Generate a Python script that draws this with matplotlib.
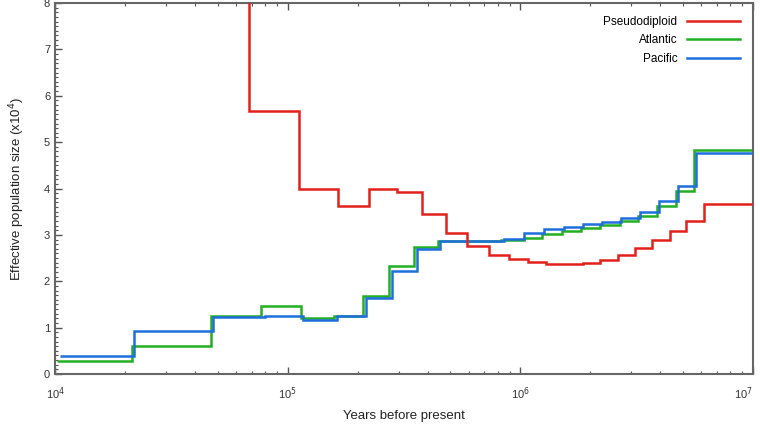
import matplotlib
matplotlib.use("Agg")
import matplotlib.pyplot as plt
from matplotlib.ticker import LogLocator, MultipleLocator, NullFormatter

plt.rcParams['font.family'] = ['Liberation Sans', 'DejaVu Sans']

# DATA (years before present = step edges, Ne x10^4 = step values)
pseudo_edges = [55000, 68500, 112400, 163800, 223500, 294900, 378900, 477100, 591600,
                730500, 890600, 1075000, 1293000, 1550000, 1861000, 2209000, 2620000,
                3123000, 3696000, 4387000, 5176000, 6143000, 10000000]
pseudo_ne = [12.0, 5.67, 3.98, 3.62, 3.98, 3.92, 3.45, 3.05, 2.76, 2.57, 2.48, 2.42,
             2.38, 2.37, 2.40, 2.46, 2.56, 2.71, 2.89, 3.09, 3.30, 3.66]

atlantic_edges = [10170, 21370, 46880, 77150, 114000, 157400, 209800, 272500, 347600,
                  441000, 828500, 1033000, 1243000, 1511000, 1824000, 2202000, 2673000,
                  3208000, 3873000, 4656000, 5565000, 10000000]
atlantic_ne = [0.28, 0.60, 1.26, 1.47, 1.21, 1.26, 1.68, 2.33, 2.74, 2.86, 2.89, 2.94,
               3.01, 3.09, 3.14, 3.22, 3.30, 3.41, 3.62, 3.95, 4.83]

pacific_edges = [10500, 21900, 47960, 80270, 116900, 162800, 216100, 279600, 359500,
                 452900, 847600, 1033000, 1260000, 1535000, 1861000, 2246000, 2711000,
                 3282000, 3934000, 4749000, 5715000, 10000000]
pacific_ne = [0.39, 0.93, 1.22, 1.25, 1.16, 1.25, 1.64, 2.23, 2.70, 2.87, 2.91, 3.03,
              3.12, 3.17, 3.23, 3.28, 3.37, 3.50, 3.73, 4.06, 4.77]

x_ticks = [1e4, 1e5, 1e6, 1e7]
x_ticklabels = ['10$^4$', '10$^5$', '10$^6$', '10$^7$']

fig = plt.figure(figsize=(7.6, 4.3), dpi=100)
ax = fig.add_axes([0.0724, 0.1302, 0.9184, 0.8628])

ax.stairs(atlantic_ne, atlantic_edges, baseline=None, color='#22b022', lw=1.8,
          label='Atlantic', zorder=2)
ax.stairs(pacific_ne, pacific_edges, baseline=None, color='#1e6fdc', lw=1.8,
          label='Pacific', zorder=3)
ax.stairs(pseudo_ne, pseudo_edges, baseline=None, color='#e3201b', lw=1.8,
          label='Pseudodiploid', zorder=4)

ax.set_xscale('log')
ax.set_xlim(1e4, 1e7)
ax.set_ylim(0, 8)

ax.set_xticks(x_ticks, x_ticklabels)
ax.xaxis.set_minor_locator(LogLocator(base=10, subs=range(2, 10)))
ax.xaxis.set_minor_formatter(NullFormatter())
ax.yaxis.set_major_locator(MultipleLocator(1))
ax.yaxis.set_minor_locator(MultipleLocator(0.1))

ax.tick_params(which='both', direction='in', top=True, right=False,
               colors='#555555', labelcolor='#333333', labelsize=8)
ax.tick_params(which='major', length=5, width=1)
ax.tick_params(which='minor', length=2.5, width=0.8)
ax.tick_params(axis='x', pad=8)

# keep the last label inside the canvas
ax.get_xticklabels()[-1].set_horizontalalignment('right')

for s in ax.spines.values():
    s.set_color('#666666')
    s.set_linewidth(1.5)

ax.set_xlabel('Years before present', fontsize=9.5, color='#222222', labelpad=6)
ax.set_ylabel('Effective population size (x10$^4$)', fontsize=9.5, color='#222222',
              labelpad=12)

handles, labels = ax.get_legend_handles_labels()
order = [2, 0, 1]
ax.legend([handles[i] for i in order], [labels[i] for i in order],
          loc='upper right', frameon=False, markerfirst=False, fontsize=8.5,
          handlelength=4.5, labelspacing=0.55, borderaxespad=0.7)

fig.savefig('out.png', dpi=100)
